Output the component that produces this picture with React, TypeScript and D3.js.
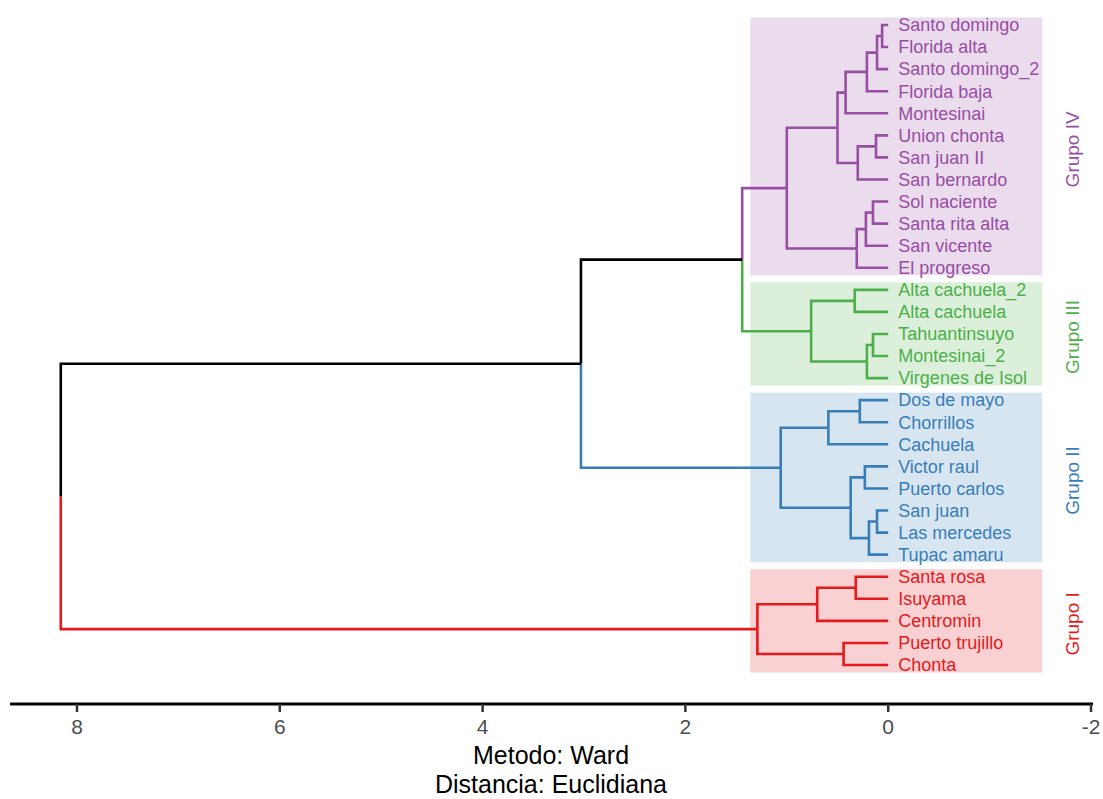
import React from "react";
import * as d3 from "d3";

// leaves in the order they are drawn, top to bottom
const leafNames = [
  "Santo domingo", "Florida alta", "Santo domingo_2", "Florida baja", "Montesinai",
  "Union chonta", "San juan II", "San bernardo", "Sol naciente", "Santa rita alta",
  "San vicente", "El progreso",
  "Alta cachuela_2", "Alta cachuela", "Tahuantinsuyo", "Montesinai_2", "Virgenes de Isol",
  "Dos de mayo", "Chorrillos", "Cachuela", "Victor raul", "Puerto carlos", "San juan",
  "Las mercedes", "Tupac amaru",
  "Santa rosa", "Isuyama", "Centromin", "Puerto trujillo", "Chonta",
];

const groupNames = ["Grupo IV", "Grupo III", "Grupo II", "Grupo I"];
const groupSizes = [12, 5, 8, 5];
const groupColors = ["#984EA3", "#4DAF4A", "#377EB8", "#E41A1C"];

// hclust style merge table: negative = leaf (1-based), positive = earlier merge (1-based), then height
const merges: [number, number, number][] = [
  [-1, -2, 0.06],
  [1, -3, 0.11],
  [2, -4, 0.21],
  [3, -5, 0.42],
  [-6, -7, 0.12],
  [5, -8, 0.30],
  [4, 6, 0.50],
  [-9, -10, 0.15],
  [8, -11, 0.22],
  [9, -12, 0.31],
  [7, 10, 1.00],
  [-13, -14, 0.33],
  [-15, -16, 0.15],
  [13, -17, 0.21],
  [12, 14, 0.76],
  [11, 15, 1.44],
  [-18, -19, 0.28],
  [17, -20, 0.59],
  [-21, -22, 0.23],
  [-23, -24, 0.11],
  [20, -25, 0.19],
  [19, 21, 0.37],
  [18, 22, 1.06],
  [16, 23, 3.03],
  [-26, -27, 0.32],
  [25, -28, 0.70],
  [-29, -30, 0.44],
  [26, 27, 1.29],
  [24, 28, 8.16],
];

const xTicks = [8, 6, 4, 2, 0, -2];

type Node = { h: number; y: number; group: number };

export default function App() {
  const width = 1103;
  const height = 799;

  const x = d3.scaleLinear().domain([8, -2]).range([77, 1091]);
  const y = d3.scaleLinear().domain([0, leafNames.length - 1]).range([25, 665]);
  const step = y(1) - y(0);

  const leafGroup: number[] = [];
  groupSizes.forEach((n, g) => { for (let i = 0; i < n; i++) leafGroup.push(g); });

  const leaves: Node[] = leafNames.map((_, i) => ({ h: 0, y: y(i), group: leafGroup[i] }));
  const nodes: Node[] = [];
  const segs: { d: string; color: string }[] = [];
  const pick = (k: number) => (k < 0 ? leaves[-k - 1] : nodes[k - 1]);

  merges.forEach(([a, b, h]) => {
    const ca = pick(a);
    const cb = pick(b);
    const node: Node = { h, y: (ca.y + cb.y) / 2, group: ca.group === cb.group ? ca.group : -1 };
    [ca, cb].forEach((c) => {
      const path = d3.path();
      path.moveTo(x(h), node.y);
      path.lineTo(x(h), c.y);
      path.lineTo(x(c.h), c.y);
      segs.push({ d: path.toString(), color: c.group < 0 ? "#000000" : groupColors[c.group] });
    });
    nodes.push(node);
  });

  // group boxes
  let start = 0;
  const boxes = groupSizes.map((n, g) => {
    const b = { g, top: y(start) - step / 2 + 3.5, bottom: y(start + n - 1) + step / 2 - 3.5 };
    start += n;
    return b;
  });

  const font = "'Liberation Sans', Arial, sans-serif";
  const axisY = 704;

  return (
    <svg width={width} height={height} style={{ position: "absolute", left: 0, top: 0, background: "#fff" }} fontFamily={font}>
      {boxes.map((b) => (
        <rect key={b.g} x={x(1.36)} y={b.top} width={x(-1.52) - x(1.36)} height={b.bottom - b.top}
          fill={groupColors[b.g]} fillOpacity={0.2} />
      ))}
      {segs.map((s, i) => (
        <path key={i} d={s.d} fill="none" stroke={s.color} strokeWidth={2.6} />
      ))}
      {leafNames.map((name, i) => (
        <text key={name} x={x(0) + 10} y={y(i)} dy="0.35em" fontSize={18} fill={groupColors[leafGroup[i]]}>
          {name}
        </text>
      ))}
      {boxes.map((b) => (
        <text key={b.g} transform={`translate(1072,${(b.top + b.bottom) / 2 + 3}) rotate(-90)`}
          textAnchor="middle" dy="0.35em" fontSize={19} fill={groupColors[b.g]}>
          {groupNames[b.g]}
        </text>
      ))}
      <line x1={x(8.66)} x2={x(-2.02)} y1={axisY} y2={axisY} stroke="#000" strokeWidth={3} />
      {xTicks.map((t) => (
        <g key={t} transform={`translate(${x(t)},0)`}>
          <line y1={axisY} y2={axisY + 8} stroke="#333" strokeWidth={2.5} />
          <text y={axisY + 30} textAnchor="middle" fontSize={21} fill="#4D4D4D">{t}</text>
        </g>
      ))}
      <text x={551} y={764} textAnchor="middle" fontSize={25} fill="#000">Metodo: Ward</text>
      <text x={551} y={793} textAnchor="middle" fontSize={25} fill="#000">Distancia: Euclidiana</text>
    </svg>
  );
}
